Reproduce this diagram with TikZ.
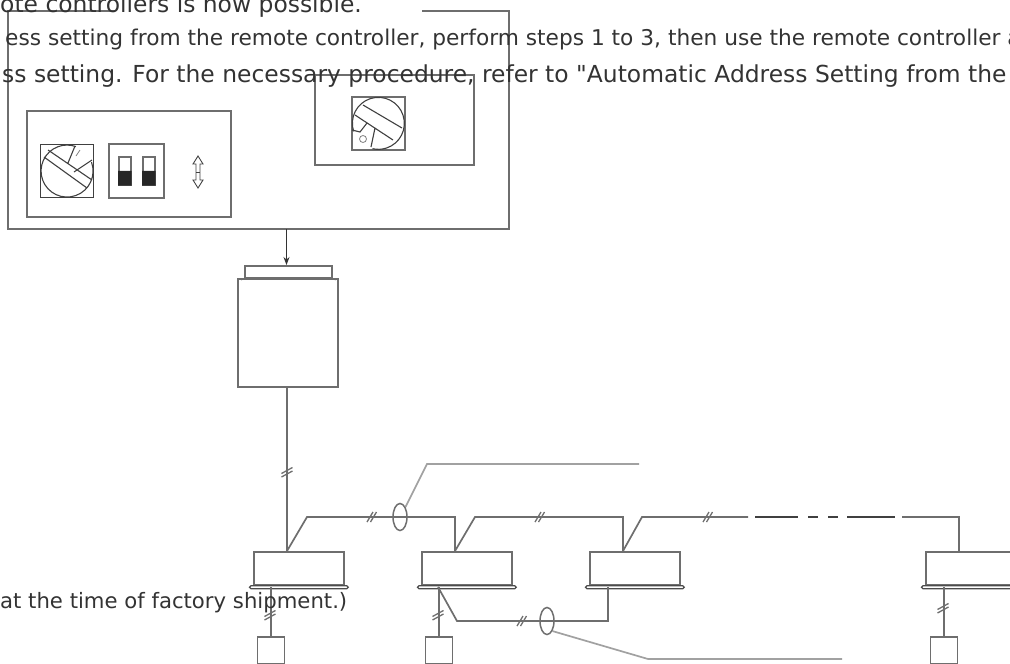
\documentclass[tikz,border=0pt]{standalone}
\usepackage{fontspec}
\setmainfont[Ligatures=TeXOff]{DejaVu Sans}
\usetikzlibrary{arrows.meta,shapes.geometric}
\definecolor{wire}{HTML}{6E6E6E}
\definecolor{copytext}{HTML}{333333}
\tikzset{
  wireline/.style={draw=wire,line width=1.7pt},
  thinline/.style={draw=black!75,line width=1.1pt},
  leader/.style={draw=wire!65,line width=1.7pt},
  box/.style={draw=wire,line width=1.7pt,rectangle,inner sep=0pt},
  unit/.style={box,minimum width=90pt,minimum height=33pt,anchor=north west},
  remote/.style={box,minimum width=27pt,minimum height=27pt,anchor=north west},
  bundle/.style={draw=wire,line width=1.5pt,ellipse,minimum width=14pt,minimum height=27pt,inner sep=0pt},
  copyline/.style={anchor=base west,inner sep=0pt,text=copytext,font=\fontsize{#1}{#1}\selectfont},
}
\newcommand{\cutalong}[1]{\draw[wire,line width=1.3pt] ([shift={(-5,5)}]#1)--++(6,-10) ([shift={(-1.5,5)}]#1)--++(6,-10);}
\newcommand{\cutacross}[1]{\draw[wire,line width=1.3pt] ([shift={(-5.5,1.5)}]#1)--++(11,-6) ([shift={(-5.5,5)}]#1)--++(11,-6);}
\begin{document}
\begin{tikzpicture}[x=1pt,y=-1pt]
\useasboundingbox (0,0) rectangle (1010,664);
% control panel
\draw[wireline] (115,11)--(8,11)--(8,229)--(509,229)--(509,11)--(422,11);
\node[box,minimum width=204pt,minimum height=106pt,anchor=north west] (leftpanel) at (26,110) {};
\node[box,minimum width=159pt,minimum height=90pt,anchor=north west] (rightpanel) at (314,74) {};
% left dial
\node[box,draw=black!75,line width=1.1pt,minimum size=53pt,anchor=north west] (dialA) at (40,144) {};
\draw[thinline] (dialA.center)++(-20:26) arc (-20:290:26);
\draw[thinline] (68,163)--(75,146) (74,172)--(92,160) (48,150)--(92,180) (44,157)--(87,188);
\draw[gray,line width=.8pt] (76,156)--(80,150);
% dip switches
\node[box,minimum width=55pt,minimum height=54pt,anchor=north west] (dip) at (108,143) {};
\node[box,minimum width=12pt,minimum height=28pt,anchor=north west] (dipA) at (118,156) {};
\node[box,minimum width=12pt,minimum height=28pt,anchor=north west] (dipB) at (142,156) {};
\fill[black!85] (dipA.west) rectangle (dipA.south east) (dipB.west) rectangle (dipB.south east);
% up and down mark
\draw[thinline,line width=.9pt] (198,156)--(193,164)--(196,164)--(196,180)--(193,180)--(198,188)--(203,180)--(200,180)--(200,164)--(203,164)--cycle;
\draw[thinline,line width=.9pt] (196,172)--(200,172);
% right dial
\node[box,minimum size=53pt,anchor=north west] (dialB) at (351,96) {};
\draw[thinline] (dialB.center)++(162:26) arc (162:463:26);
\draw[thinline] (352,130)--(360,132)--(367,123) (375,128)--(371,147) (363,105)--(402,128) (355,115)--(393,140);
\node[draw=gray,line width=.8pt,circle,inner sep=0pt,minimum size=7pt] (dialmark) at (363,139) {};
% outdoor unit
\coordinate (panelout) at (286.5,229);
\node[box,minimum width=87pt,minimum height=12pt,anchor=north west] (cap) at (244,265) {};
\node[box,minimum width=100pt,minimum height=108pt,anchor=north west] (outdoor) at (237,278) {};
\draw[wireline,line width=1.2pt] (cap.south west)--++(-3,1) (cap.south east)--++(3,1);
\draw[-{Stealth[length=8pt,width=6pt]},line width=1.2pt,black!80] (panelout)--(cap.north-|panelout);
% indoor units
\node[unit] (unitA) at (253,551) {};
\node[unit] (unitB) at (421,551) {};
\node[unit] (unitC) at (589,551) {};
\node[unit] (unitD) at (925,551) {};
\foreach \u in {unitA,unitB,unitC,unitD}{
  \draw[wireline,draw=black!70,line width=1.2pt,rounded corners=1.5pt] ([xshift=-3.5pt]\u.south west) rectangle ([shift={(3.5pt,-3pt)}]\u.south east);
}
% remote controllers
\node[remote] (remA) at (256.5,636) {};
\node[remote] (remB) at (424.5,636) {};
\node[remote] (remD) at (929.5,636) {};
\draw[line width=1.7pt,black!75] (remA.south west)--(remA.south east) (remB.south west)--(remB.south east) (remD.south west)--(remD.south east);
% wiring
\coordinate (tapA) at (287,551);
\coordinate (tapB) at (455,551);
\coordinate (tapC) at (623,551);
\coordinate (tapD) at (959,551);
\draw[wireline] (outdoor.south-|tapA)--(tapA);
\draw[wireline] (tapA)--(307,517)--(455,517)--(tapB);
\draw[wireline] (tapB)--(475,517)--(623,517)--(tapC);
\draw[wireline] (tapC)--(642,517)--(748,517);
\draw[wireline,draw=black!75] (755,517)--(798,517) (808,517)--(818,517) (828,517)--(838,517) (847,517)--(895,517);
\draw[wireline] (902,517)--(959,517)--(tapD);
\draw[wireline] (remA.north)--++(0,-49);
\draw[wireline] (remB.north)--++(0,-49);
\draw[wireline] (remD.north)--++(0,-49);
\draw[wireline] (438,587)--(457,621)--(608,621)--(608,587);
% wire counts
\cutacross{287,472}
\cutalong{372,517}
\cutalong{540,517}
\cutalong{708,517}
\cutalong{522,621}
\cutacross{270,615}
\cutacross{438,615}
\cutacross{943,608}
% wire bundles and their leaders
\node[bundle] (bundleA) at (400,517) {};
\node[bundle] (bundleB) at (547,621) {};
\draw[leader] (bundleA.north east)--(427,464)--(639,464);
\draw[leader] (bundleB.south east)--(648,659)--(842,659);
% text
\node[copyline=23.4] (lineA) at (0,12) {ote controllers is now possible.};
\node[copyline=21.7] (lineB) at (5,45) {ess setting from the remote controller, perform steps 1 to 3, then use the remote controller a};
\node[copyline=23.4] (lineC) at (2,82) {ss setting. For the necessary procedure, refer to "Automatic Address Setting from the};
\node[copyline=21.2] (lineD) at (0,608) {at the time of factory shipment.)};
\end{tikzpicture}
\end{document}
